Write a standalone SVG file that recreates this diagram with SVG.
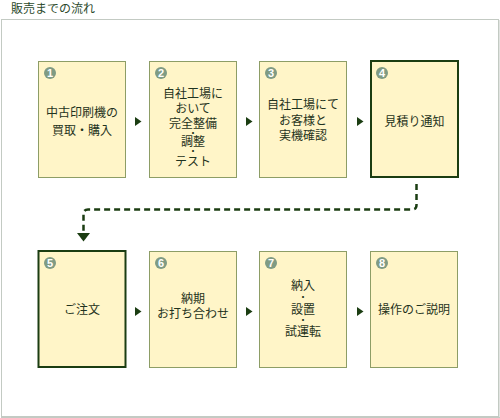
<svg xmlns="http://www.w3.org/2000/svg" width="500" height="418" viewBox="0 0 500 418">
<defs>
<style>
.t{font-family:"Noto Sans CJK JP","Noto Sans CJK SC",sans-serif;font-size:12px;fill:#1f3320;text-anchor:middle}
.d{font-size:8px;font-weight:bold}
.box{fill:#fff5c8;stroke:#8d9d66;stroke-width:1}
.sel{fill:#fff5c8;stroke:#1b3d12;stroke-width:2}
.num{fill:#7f9b84}
.nt{font-family:"Liberation Sans",Arial,sans-serif;font-size:11px;font-weight:bold;fill:#ffffff;text-anchor:middle}
.arr{fill:#1b3d12}
.hd{font-family:"Noto Sans CJK JP","Noto Sans CJK SC",sans-serif;font-size:12px;fill:#2c4a2c}
</style>
</defs>
<rect width="500" height="418" fill="#ffffff"/>
<text class="hd" x="11" y="13">販売までの流れ</text>
<rect x="1.5" y="19.5" width="497" height="397" fill="none" stroke="#c3cac3" stroke-width="1"/>
<line x1="499" y1="20" x2="499" y2="418" stroke="#c3cac3" stroke-width="1"/>
<line x1="1" y1="417.5" x2="500" y2="417.5" stroke="#c3cac3" stroke-width="1"/>

<g id="connectors">
<polygon class="arr" points="135,117 135,126 141.5,121.5"/>
<polygon class="arr" points="246,117 246,126 252.5,121.5"/>
<polygon class="arr" points="357,117 357,126 363.5,121.5"/>
<polygon class="arr" points="135,307 135,316 141.5,311.5"/>
<polygon class="arr" points="246,307 246,316 252.5,311.5"/>
<polygon class="arr" points="357,307 357,316 363.5,311.5"/>
<path d="M416.5,184 V205 Q416.5,209.5 412,209.5 H88 Q83.5,209.5 83.5,214 V233" fill="none" stroke="#1b3d12" stroke-width="2.5" stroke-dasharray="6 4"/>
<polygon class="arr" points="77,233 90,233 83.5,241.5"/>
</g>

<g id="n1">
<rect class="box" x="38.5" y="61.5" width="87" height="116"/>
<circle class="num" cx="50" cy="73" r="6"/><text class="nt" x="50" y="77">1</text>
<text class="t"><tspan x="82" y="117">中古印刷機の</tspan><tspan x="82" y="135">買取・購入</tspan></text>
</g>
<g id="n2">
<rect class="box" x="149.5" y="61.5" width="87" height="116"/>
<circle class="num" cx="161" cy="73" r="6"/><text class="nt" x="161" y="77">2</text>
<text class="t"><tspan x="193" y="98">自社工場に</tspan><tspan x="193" y="112.5">おいて</tspan><tspan x="193" y="127.5">完全整備</tspan><tspan class="d" x="193" y="135.5">・</tspan><tspan x="193" y="146">調整</tspan><tspan class="d" x="193" y="154">・</tspan><tspan x="193" y="166">テスト</tspan></text>
</g>
<g id="n3">
<rect class="box" x="259.5" y="61.5" width="87" height="116"/>
<circle class="num" cx="271" cy="73" r="6"/><text class="nt" x="271" y="77">3</text>
<text class="t"><tspan x="303" y="109">自社工場にて</tspan><tspan x="303" y="124.5">お客様と</tspan><tspan x="303" y="140">実機確認</tspan></text>
</g>
<g id="n4">
<rect class="sel" x="371" y="61" width="87" height="116"/>
<circle class="num" cx="382" cy="73" r="6"/><text class="nt" x="382" y="77">4</text>
<text class="t" x="414.5" y="126">見積り通知</text>
</g>
<g id="n5">
<rect class="sel" x="38.5" y="251" width="87" height="116"/>
<circle class="num" cx="50" cy="263" r="6"/><text class="nt" x="50" y="267">5</text>
<text class="t" x="82" y="314">ご注文</text>
</g>
<g id="n6">
<rect class="box" x="149.5" y="251.5" width="87" height="116"/>
<circle class="num" cx="161" cy="263" r="6"/><text class="nt" x="161" y="267">6</text>
<text class="t"><tspan x="193" y="302.5">納期</tspan><tspan x="193" y="318">お打ち合わせ</tspan></text>
</g>
<g id="n7">
<rect class="box" x="259.5" y="251.5" width="87" height="116"/>
<circle class="num" cx="271" cy="263" r="6"/><text class="nt" x="271" y="267">7</text>
<text class="t"><tspan x="303" y="289.5">納入</tspan><tspan class="d" x="303" y="299.5">・</tspan><tspan x="303" y="313.5">設置</tspan><tspan class="d" x="303" y="322.5">・</tspan><tspan x="303" y="336">試運転</tspan></text>
</g>
<g id="n8">
<rect class="box" x="370.5" y="251.5" width="87" height="116"/>
<circle class="num" cx="382" cy="263" r="6"/><text class="nt" x="382" y="267">8</text>
<text class="t" x="414" y="314">操作のご説明</text>
</g>
</svg>
